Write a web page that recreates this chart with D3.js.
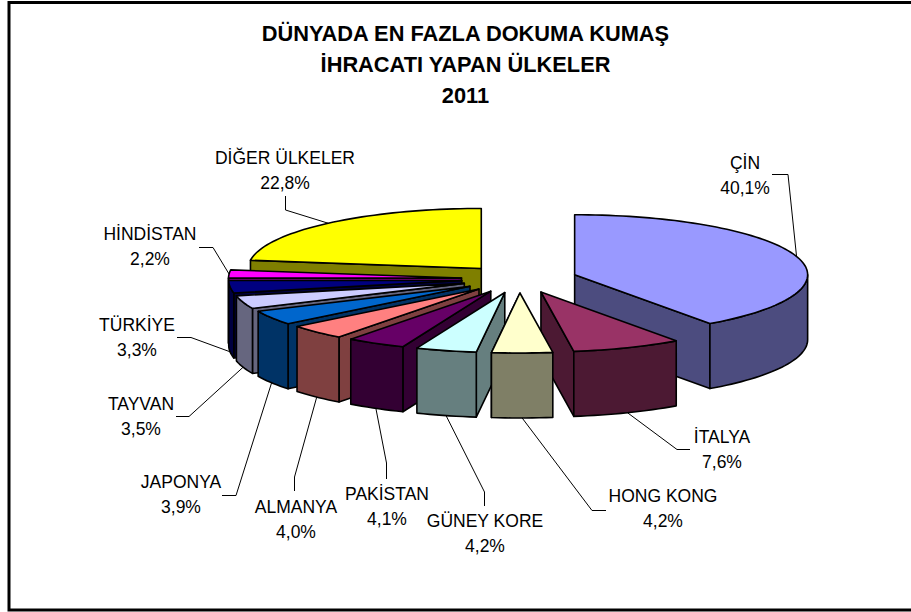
<!DOCTYPE html>
<html><head><meta charset="utf-8">
<style>html,body{margin:0;padding:0;background:#fff;overflow:hidden}svg{display:block}</style>
<script src="https://cdn.jsdelivr.net/npm/d3@7/dist/d3.min.js"></script></head>
<body><svg id="c" width="911" height="612"></svg>
<script>
const titleLines = ["DÜNYADA EN FAZLA DOKUMA KUMAŞ","İHRACATI YAPAN ÜLKELER","2011"];
const categories = ["ÇİN","İTALYA","HONG KONG","GÜNEY KORE","PAKİSTAN","ALMANYA","JAPONYA","TAYVAN","TÜRKİYE","HİNDİSTAN","DİĞER ÜLKELER"];
const values = [40.1,7.6,4.2,4.2,4.1,4.0,3.9,3.5,3.3,2.2,22.8];
const topColors = ["#9999FF","#993366","#FFFFCC","#CCFFFF","#660066","#FF8080","#0066CC","#CCCCFF","#000080","#FF00FF","#FFFF00"];
const sideColors = ["#4C4C7F","#4C1933","#7F7F66","#667F7F","#330033","#7F4040","#003366","#66667F","#000040","#7F007F","#7F7F00"];
const drawOrder = [10,9,8,7,6,5,4,3,0,1,2];
// label layout: text centre x, first-line baseline y, then leader elbow points
const labelLayout = [
 {x:745,y:169,elbow:[[788,174.5],[772,174.5]]},
 {x:722,y:443,elbow:[[677,449.5],[690,449.5]]},
 {x:663,y:502,elbow:[[592,510.5],[606,510.5]]},
 {x:485,y:527,elbow:[[484.5,492],[484.5,506]]},
 {x:387,y:500,elbow:[[386.5,463],[386.5,479]]},
 {x:296,y:513,elbow:[[294.5,477],[294.5,491]]},
 {x:181,y:488,elbow:[[236,495.5],[222,495.5]]},
 {x:141,y:410,elbow:[[189,416.5],[176,416.5]]},
 {x:137,y:331,elbow:[[191,337.5],[177,337.5]]},
 {x:150,y:240,elbow:[[213,247.5],[199,247.5]]},
 {x:285,y:164,elbow:[[285.5,210],[285.5,196]]}
];
const svg = d3.select("#c");
svg.append("rect").attr("x",9).attr("y",2.5).attr("width",960).attr("height",607.5).attr("fill","#fff").attr("stroke","#000").attr("stroke-width",3);

const cx=519.4, cy=279, rx=233, ry=60, depth=65, ex=58, ey=14;
const arcs = d3.pie().sort(null).value(d=>d)(values);
const line = d3.line();
function pt(c,a,dz=0){return [c[0]+rx*Math.sin(a), c[1]-ry*Math.cos(a)+dz];}
function samples(a0,a1){const n=Math.max(2,Math.ceil(Math.abs(a1-a0)/0.03));return d3.range(n+1).map(i=>a0+(a1-a0)*i/n);}
const g=svg.append("g").attr("stroke","#000").attr("stroke-width",1.6).attr("stroke-linejoin","round");
const apexes = arcs.map(d=>{const m=(d.startAngle+d.endAngle)/2;return [cx+ex*Math.sin(m),cy-ey*Math.cos(m)];});
drawOrder.forEach(i=>{
  const d=arcs[i],c=apexes[i];
  const s=g.append("g");
  const side=sideColors[i], top=topColors[i];
  const mid=(d.startAngle+d.endAngle)/2;
  const cuts = mid>Math.PI ? [d.endAngle,d.startAngle] : [d.startAngle,d.endAngle];
  cuts.forEach(a=>{
    const p=pt(c,a);
    // a cut wall that faces away from the viewer stays hidden behind the slice body
    const facing = mid>Math.PI ? a===d.startAngle : a===d.endAngle;
    if(facing) s.append("path").attr("fill",side).attr("d",line([c,p,[p[0],p[1]+depth],[c[0],c[1]+depth]])+"Z");
  });
  const a0=Math.max(d.startAngle,Math.PI/2),a1=Math.min(d.endAngle,Math.PI*1.5);
  if(a1>a0){
    const up=samples(a0,a1).map(a=>pt(c,a));
    const dn=samples(a1,a0).map(a=>pt(c,a,depth));
    s.append("path").attr("fill",side).attr("d",line(up.concat(dn))+"Z");
  }
  s.append("path").attr("fill",top).attr("d",line([c].concat(samples(d.startAngle,d.endAngle).map(a=>pt(c,a))))+"Z");
});
const lg=svg.append("g").attr("fill","none").attr("stroke","#000").attr("stroke-width",1);
const tg=svg.append("g").attr("font-family","'Liberation Sans',Arial,sans-serif").attr("font-size",17.5).attr("text-anchor","middle").attr("fill","#000");
arcs.forEach((d,i)=>{
  const m=(d.startAngle+d.endAngle)/2, front=Math.cos(m)<0;
  const a=pt(apexes[i],m,front?depth:0), L=labelLayout[i];
  lg.append("path").attr("d",line([a,...L.elbow]));
  tg.append("text").attr("x",L.x).attr("y",L.y).text(categories[i]);
  tg.append("text").attr("x",L.x).attr("y",L.y+25).text(values[i].toFixed(1).replace(".",",")+"%");
});
const tt=svg.append("g").attr("font-family","'Liberation Sans',Arial,sans-serif").attr("font-weight","bold").attr("font-size",21.8).attr("text-anchor","middle");
titleLines.forEach((t,i)=>tt.append("text").attr("x",465.5).attr("y",41+i*31).text(t));
</script></body></html>
